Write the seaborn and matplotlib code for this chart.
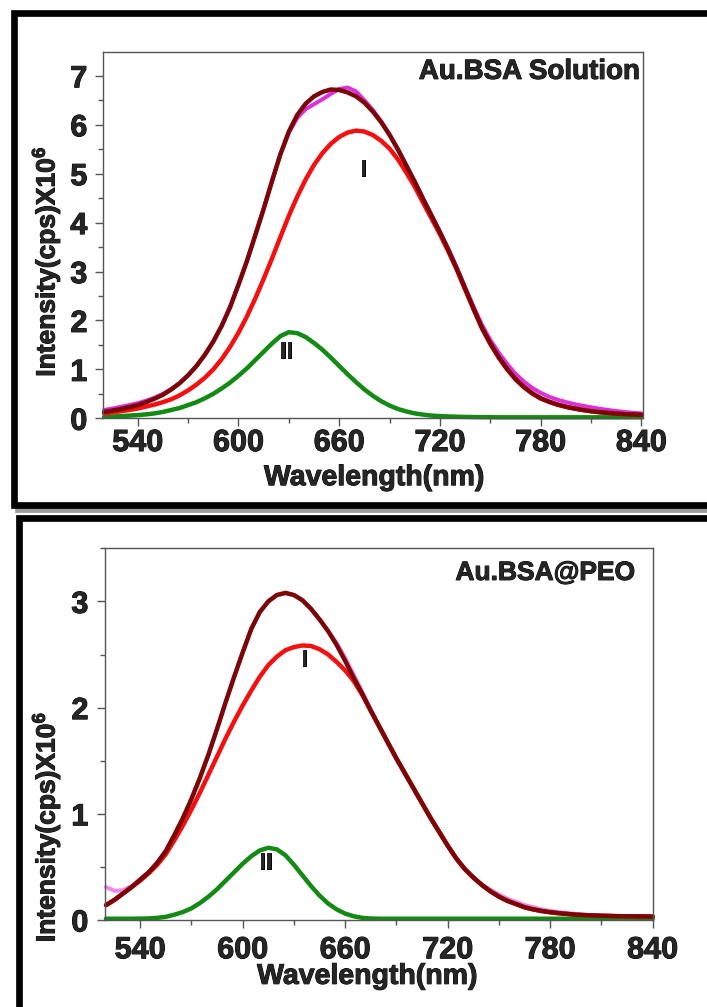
import numpy as np
import matplotlib
matplotlib.use("Agg")
import matplotlib.pyplot as plt
import seaborn as sns
from matplotlib import patheffects
from matplotlib.patches import Rectangle
from matplotlib.ticker import MultipleLocator

# Wavelength grid (nm)
wavelength = np.arange(520, 845, 5)

# Au.BSA Solution (intensity x10^6 cps)
sol_measured = [0.17, 0.20, 0.235, 0.27, 0.31, 0.36, 0.42, 0.50, 0.60, 0.72, 0.88, 1.07, 1.30,
                1.57, 1.89, 2.28, 2.74, 3.22, 3.75, 4.29, 4.86, 5.40, 5.84, 6.14, 6.32, 6.42,
                6.52, 6.63, 6.73, 6.76, 6.68, 6.50, 6.30, 6.07, 5.80, 5.50, 5.17, 4.84, 4.49,
                4.15, 3.81, 3.46, 3.08, 2.68, 2.28, 1.91, 1.60, 1.34, 1.11, 0.91, 0.75, 0.62,
                0.52, 0.44, 0.38, 0.33, 0.29, 0.255, 0.225, 0.195, 0.17, 0.148, 0.128, 0.112, 0.10]
sol_total = [0.13, 0.16, 0.19, 0.23, 0.27, 0.33, 0.40, 0.48, 0.59, 0.72, 0.88, 1.07, 1.30,
             1.57, 1.89, 2.27, 2.73, 3.21, 3.74, 4.28, 4.85, 5.40, 5.86, 6.20, 6.43, 6.58,
             6.67, 6.72, 6.71, 6.66, 6.58, 6.45, 6.27, 6.05, 5.79, 5.49, 5.16, 4.83, 4.48,
             4.14, 3.80, 3.44, 3.06, 2.65, 2.24, 1.85, 1.53, 1.25, 1.01, 0.80, 0.64, 0.51,
             0.41, 0.34, 0.28, 0.235, 0.20, 0.17, 0.145, 0.125, 0.11, 0.095, 0.085, 0.078, 0.07]
sol_peak1 = [0.10, 0.12, 0.145, 0.17, 0.20, 0.24, 0.28, 0.33, 0.39, 0.47, 0.57, 0.69, 0.83,
             1.00, 1.21, 1.46, 1.75, 2.08, 2.45, 2.85, 3.27, 3.71, 4.14, 4.53, 4.88, 5.18,
             5.42, 5.61, 5.75, 5.84, 5.88, 5.86, 5.79, 5.67, 5.51, 5.29, 5.02, 4.73, 4.40,
             4.08, 3.76, 3.41, 3.04, 2.63, 2.23, 1.84, 1.52, 1.24, 1.00, 0.80, 0.635, 0.505,
             0.405, 0.335, 0.28, 0.235, 0.20, 0.17, 0.145, 0.125, 0.11, 0.095, 0.085, 0.078, 0.07]
sol_peak2 = [0.03, 0.035, 0.045, 0.055, 0.065, 0.08, 0.10, 0.13, 0.17, 0.21, 0.27, 0.33, 0.41,
             0.50, 0.61, 0.73, 0.87, 1.02, 1.19, 1.36, 1.53, 1.68, 1.76, 1.74, 1.66, 1.54,
             1.40, 1.24, 1.07, 0.90, 0.74, 0.59, 0.46, 0.35, 0.26, 0.19, 0.14, 0.10, 0.075,
             0.055, 0.045, 0.038, 0.032, 0.028, 0.025, 0.023, 0.022, 0.02, 0.02, 0.02, 0.02, 0.02,
             0.02, 0.02, 0.02, 0.02, 0.02, 0.02, 0.02, 0.02, 0.02, 0.02, 0.02, 0.02, 0.02]

# Au.BSA@PEO (intensity x10^6 cps)
peo_measured = [0.31, 0.275, 0.28, 0.32, 0.385, 0.45, 0.54, 0.65, 0.80, 0.96, 1.14, 1.34, 1.56,
                1.80, 2.05, 2.29, 2.52, 2.74, 2.90, 3.00, 3.06, 3.08, 3.06, 3.01, 2.93, 2.83,
                2.72, 2.61, 2.47, 2.31, 2.15, 1.98, 1.82, 1.67, 1.52, 1.38, 1.24, 1.10, 0.96,
                0.83, 0.70, 0.58, 0.48, 0.40, 0.33, 0.285, 0.24, 0.20, 0.17, 0.14, 0.12, 0.10,
                0.085, 0.074, 0.065, 0.057, 0.05, 0.045, 0.04, 0.038, 0.036, 0.035, 0.034, 0.033, 0.032]
peo_total = [0.14, 0.19, 0.25, 0.31, 0.38, 0.45, 0.54, 0.65, 0.80, 0.96, 1.14, 1.34, 1.56,
             1.80, 2.05, 2.29, 2.52, 2.74, 2.90, 3.00, 3.06, 3.08, 3.06, 3.01, 2.93, 2.83,
             2.72, 2.59, 2.44, 2.28, 2.13, 1.97, 1.82, 1.67, 1.52, 1.38, 1.24, 1.10, 0.96,
             0.83, 0.70, 0.58, 0.48, 0.40, 0.33, 0.27, 0.22, 0.18, 0.15, 0.12, 0.10, 0.085,
             0.073, 0.064, 0.057, 0.05, 0.046, 0.043, 0.04, 0.038, 0.036, 0.035, 0.034, 0.033, 0.032]
peo_peak1 = [0.14, 0.19, 0.25, 0.31, 0.37, 0.44, 0.52, 0.62, 0.75, 0.89, 1.04, 1.20, 1.37,
             1.54, 1.71, 1.87, 2.02, 2.16, 2.29, 2.40, 2.48, 2.54, 2.57, 2.585, 2.58, 2.55,
             2.50, 2.43, 2.35, 2.25, 2.12, 1.97, 1.82, 1.67, 1.52, 1.38, 1.24, 1.10, 0.96,
             0.83, 0.70, 0.58, 0.48, 0.40, 0.33, 0.27, 0.22, 0.18, 0.15, 0.12, 0.10, 0.085,
             0.073, 0.064, 0.057, 0.05, 0.046, 0.043, 0.04, 0.038, 0.036, 0.035, 0.034, 0.033, 0.032]
peo_peak2 = [0.012, 0.012, 0.012, 0.012, 0.013, 0.015, 0.02, 0.03, 0.05, 0.075, 0.11, 0.16, 0.22,
             0.29, 0.37, 0.45, 0.53, 0.60, 0.655, 0.68, 0.665, 0.61, 0.52, 0.42, 0.32, 0.23,
             0.155, 0.10, 0.06, 0.035, 0.02, 0.014, 0.012, 0.012, 0.012, 0.012, 0.012, 0.012, 0.012,
             0.012, 0.012, 0.012, 0.012, 0.012, 0.012, 0.012, 0.012, 0.012, 0.012, 0.012, 0.012, 0.012,
             0.012, 0.012, 0.012, 0.012, 0.012, 0.012, 0.012, 0.012, 0.012, 0.012, 0.012, 0.012, 0.012]

xticks = [540, 600, 660, 720, 780, 840]

sns.set_style("ticks")
plt.rcParams['font.family'] = ['Liberation Sans', 'DejaVu Sans']
plt.rcParams['font.weight'] = 'bold'
plt.rcParams['mathtext.fontset'] = 'custom'
plt.rcParams['mathtext.rm'] = 'Liberation Sans:bold'
plt.rcParams['mathtext.bf'] = 'Liberation Sans:bold'
plt.rcParams['mathtext.it'] = 'Liberation Sans:bold'

W, H = 707, 1007
fig = plt.figure(figsize=(W / 100, H / 100), dpi=100)
heavy = [patheffects.withStroke(linewidth=0.7, foreground='black')]


def px_box(left, top, right, bottom):
    return [left / W, 1 - bottom / H, (right - left) / W, (bottom - top) / H]


def add_frame(left, top, right, bottom):
    lw = 6.7 * 0.72
    x0, y0, w, h = px_box(left, top, right, bottom)
    shadow = Rectangle((x0 + 4 / W, y0 - 4 / H), w, h, transform=fig.transFigure,
                       facecolor='#9a9a9a', edgecolor='#9a9a9a', lw=lw, zorder=-3)
    box = Rectangle((x0, y0), w, h, transform=fig.transFigure,
                    facecolor='white', edgecolor='black', lw=lw, zorder=-2)
    fig.add_artist(shadow)
    fig.add_artist(box)


add_frame(13.5, 13.3, 780, 505)
add_frame(19.2, 518.3, 780, 1080)

ax_top = fig.add_axes(px_box(103, 52.3, 643.3, 418.3))
ax_bot = fig.add_axes(px_box(105, 548.3, 652.7, 920))


def draw_panel(ax, measured, total, peak1, peak2, meas_color, xlim, ylim, title,
               title_size, title_xy, lab1_xy, lab2_xy, ylab_xy, xlab_xy, xpad, ypad):
    lw = 3.2
    sns.lineplot(x=wavelength, y=measured, ax=ax, color=meas_color, lw=2.9, clip_on=False)
    sns.lineplot(x=wavelength, y=peak2, ax=ax, color='#138a13', lw=lw, clip_on=False)
    sns.lineplot(x=wavelength, y=peak1, ax=ax, color='#f41010', lw=lw, clip_on=False)
    sns.lineplot(x=wavelength, y=total, ax=ax, color='#7a0606', lw=lw, clip_on=False)

    ax.set_xlim(*xlim)
    ax.set_ylim(*ylim)
    ax.set_xticks(xticks)
    ax.xaxis.set_minor_locator(MultipleLocator(30))
    ax.yaxis.set_major_locator(MultipleLocator(1))
    ax.yaxis.set_minor_locator(MultipleLocator(0.5))
    ax.tick_params(which='both', direction='out', top=False, right=False,
                   color='#555555', width=1.0)
    ax.tick_params(which='major', length=5.5)
    ax.tick_params(which='minor', length=3.5)
    ax.tick_params(axis='x', which='major', labelsize=22, pad=xpad)
    ax.tick_params(axis='y', which='major', labelsize=22, pad=ypad)
    for spine in ax.spines.values():
        spine.set_visible(True)
        spine.set_color('#555555')
        spine.set_linewidth(1.0)
    for lbl in ax.get_xticklabels() + ax.get_yticklabels():
        lbl.set_path_effects(heavy)

    ax.set_xlabel('Wavelength(nm)', fontsize=20.5, fontweight='bold', path_effects=heavy)
    ax.set_ylabel('Intensity(cps)X10$^6$', fontsize=19, fontweight='bold', path_effects=heavy)
    ax.xaxis.set_label_coords(*xlab_xy)
    ax.yaxis.set_label_coords(*ylab_xy)

    ax.text(title_xy[0], title_xy[1], title, transform=ax.transAxes, ha='right', va='top',
            fontsize=title_size, fontweight='bold', path_effects=heavy)
    ax.text(lab1_xy[0], lab1_xy[1], 'I', ha='center', va='center', fontsize=17,
            fontweight='bold', path_effects=heavy)
    ax.text(lab2_xy[0], lab2_xy[1], 'II', ha='center', va='center', fontsize=17,
            fontweight='bold', path_effects=heavy)


draw_panel(ax_top, sol_measured, sol_total, sol_peak1, sol_peak2, '#dd30dd',
           (519.3, 841.1), (0, 7.48), 'Au.BSA Solution', 20, (0.994, 0.982),
           (674.3, 5.08), (628.5, 1.36), (-0.076, 0.428), (0.502, -0.128), 1.5, 5.8)
draw_panel(ax_bot, peo_measured, peo_total, peo_peak1, peo_peak2, '#ee88ee',
           (519.4, 839.7), (0, 3.5), 'Au.BSA@PEO', 19, (0.968, 0.966),
           (636.3, 2.45), (613.5, 0.54), (-0.0785, 0.25), (0.479, -0.118), 5.5, 6.5)

fig.savefig('out.png', dpi=100)
